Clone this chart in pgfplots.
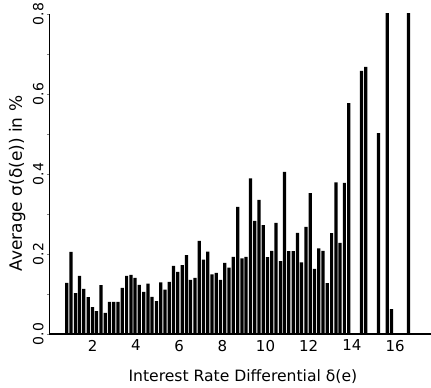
\documentclass[border=0pt]{standalone}
\usepackage{fontspec}
\setmainfont{DejaVu Sans}
\usepackage{pgfplots}
\pgfplotsset{compat=1.18}
\begin{document}
\begin{tikzpicture}[x=1pt,y=1pt]
\useasboundingbox (0,0) rectangle (431,388);
\begin{axis}[
  at={(49.5pt,54pt)}, anchor=south west,
  width=381.5pt, height=320pt, scale only axis,
  xmin=0, xmax=17.66, ymin=0, ymax=0.8,
  axis x line=bottom, axis y line=left, axis line style={-},
  x axis line style={line width=2pt},
  y axis line style={line width=0.9pt},
  xtick={2,4,...,16}, xtick style={draw=none},
  ytick={0,0.2,0.4,0.6,0.8}, minor ytick={0.1,0.3,0.5,0.7},
  tick align=outside, major tick length=2.5pt, minor tick length=2.5pt,
  ytick style={line width=0.7pt},
  /pgf/number format/assume math mode=true,
  yticklabel style={/pgf/number format/fixed,/pgf/number format/fixed zerofill,/pgf/number format/precision=1,
    rotate=90, anchor=south, font=\fontsize{14}{14}\selectfont},
  xticklabel style={font=\fontsize{15}{15}\selectfont},
  xlabel={Interest Rate Differential δ(e)},
  ylabel={Average σ(δ(e)) in \%},
  xlabel style={at={(axis description cs:0.507,-0.149)}, anchor=base, font=\fontsize{15.6}{16}\selectfont},
  ylabel style={at={(axis description cs:-0.085,0.47)}, anchor=center, font=\fontsize{17}{17}\selectfont},
  ybar, bar width=0.15,
]
\addplot[fill=black, draw=none] table[x=x,y=y] {
x y
0.80 0.1275
1.00 0.205
1.20 0.102
1.39 0.145
1.59 0.113
1.79 0.092
1.99 0.067
2.18 0.057
2.38 0.122
2.58 0.053
2.78 0.080
2.97 0.080
3.17 0.080
3.37 0.115
3.57 0.145
3.77 0.148
3.96 0.140
4.16 0.1225
4.36 0.105
4.56 0.126
4.75 0.0925
4.95 0.082
5.15 0.129
5.35 0.111
5.54 0.130
5.74 0.170
5.94 0.155
6.14 0.172
6.34 0.197
6.53 0.135
6.73 0.140
6.93 0.2325
7.13 0.186
7.32 0.206
7.52 0.149
7.72 0.1525
7.92 0.135
8.11 0.178
8.31 0.166
8.51 0.1925
8.71 0.318
8.91 0.189
9.10 0.1925
9.30 0.389
9.50 0.2825
9.70 0.335
9.89 0.272
10.09 0.192
10.29 0.208
10.49 0.2775
10.69 0.182
10.88 0.405
11.08 0.207
11.28 0.207
11.48 0.253
11.67 0.179
11.87 0.268
12.07 0.352
12.27 0.163
12.46 0.214
12.66 0.208
12.86 0.127
13.06 0.252
13.26 0.379
13.45 0.228
13.65 0.378
13.85 0.577
14.44 0.6575
14.64 0.6675
15.23 0.502
15.63 1.0
15.83 0.062
16.62 1.0
};
\end{axis}
\end{tikzpicture}
\end{document}
